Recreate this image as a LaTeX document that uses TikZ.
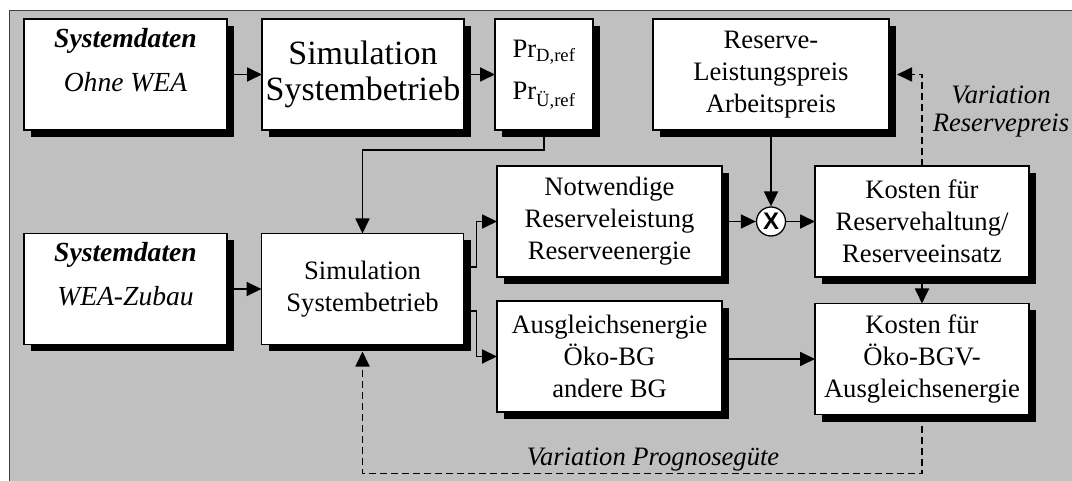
\documentclass[tikz,border=0pt]{standalone}
\usepackage{fontspec}
\setmainfont{Liberation Serif}
\setsansfont{Liberation Sans}
\usetikzlibrary{arrows.meta,shadows}
\definecolor{bggray}{RGB}{192,192,192}

\begin{document}
\begin{tikzpicture}[x=1pt,y=-1pt,
  block/.style={draw, line width=1.3pt, fill=white, inner sep=0pt, outer sep=0pt,
    align=center, font=\fontsize{26.6}{32}\selectfont,
    drop shadow={shadow xshift=7pt,shadow yshift=-7pt,fill=black,opacity=1}},
  sysbox/.style={block, minimum width=203pt, minimum height=111pt},
  simbox/.style={block, minimum width=202pt, minimum height=111pt},
  midbox/.style={block, minimum width=225pt, minimum height=111pt},
  costbox/.style={block, minimum width=214pt, minimum height=111pt},
  systext/.style={inner sep=0pt, align=center, font=\fontsize{27.6}{44}\selectfont\itshape},
  note/.style={inner sep=0pt, align=center, font=\fontsize{26.6}{28}\selectfont\itshape},
  link/.style={line width=1.8pt, -{Triangle[length=15pt,width=14pt]}},
  varlink/.style={link, dash pattern=on 7pt off 4pt}]

\clip (0,0) rectangle (1072,481);
%background
\fill[white] (0,0) rectangle (1072,481);
\draw[fill=bggray, draw=black!75, line width=1pt] (9.5,10.5) rectangle (1090,500);

%top row
\node[sysbox] (sys1) at (125.5,74.5) {};
\node[systext] (sys1txt) at (125.5,60.6) {\textbf{Systemdaten}\\Ohne WEA};
\node[simbox, font=\fontsize{34}{36}\selectfont] (sim1) at (363,74.5) {Simulation\\Systembetrieb};
\node[block, minimum width=98pt, minimum height=111pt, font=\fontsize{26.6}{42.7}\selectfont]
  (pr) at (544,74.5) {Pr\textsubscript{D,ref}\\Pr\textsubscript{Ü,ref}};
\node[block, minimum width=236pt, minimum height=111pt] (res) at (771,74.5)
  {Reserve-\\Leistungspreis\\Arbeitspreis};

%bottom row
\node[sysbox] (sys2) at (125.5,289) {};
\node[systext] (sys2txt) at (125.5,274.6) {\textbf{Systemdaten}\\WEA-Zubau};
\node[simbox] (sim2) at (362.5,289) {Simulation\\Systembetrieb};
\node[midbox] (notw) at (609.5,221.5) {Notwendige\\Reserveleistung\\Reserveenergie};
\node[midbox] (ausg) at (609.5,356.5) {Ausgleichsenergie\\Öko-BG\\andere BG};
\node[costbox] (kos1) at (922,221.5) {Kosten für\\Reservehaltung/\\Reserveeinsatz};
\node[costbox] (kos2) at (922,359) {Kosten für\\Öko-BGV-\\Ausgleichsenergie};

%multiplier
\node[circle, draw, line width=1.3pt, fill=white, minimum size=29pt, inner sep=0pt,
  font=\fontsize{24}{24}\selectfont\sffamily\bfseries] (mult) at (771,221.5) {X};

%labels
\node[note] (lblres) at (1001,112) {Variation\\Reservepreis};
\node[note, anchor=base] (lblprog) at (653,465) {Variation Prognosegüte};

%connections
\draw[link] (sys1) -- (sim1);
\draw[link] (sim1) -- (pr);
\draw[link] (pr.south) -- ++(0,20) -| (sim2.north);
\draw[link] (sys2) -- (sim2);
\draw[link] ([yshift=22pt]sim2.east) -- ++(13,0) |- (notw.west);
\draw[link] ([yshift=-22pt]sim2.east) -- ++(13,0) |- (ausg.west);
\draw[link] (res) -- (mult);
\draw[link] (notw) -- (mult);
\draw[link] (mult) -- (kos1);
\draw[link] (kos1) -- (kos2);
\draw[link] (ausg.east |- kos2.west) -- (kos2.west);

%variation loops
\draw[varlink] (kos1.north) |- ([xshift=8pt]res.east);
\draw[varlink] (kos2.south) -- ++(0,59) -| ([yshift=-7pt]sim2.south);
\end{tikzpicture}
\end{document}
